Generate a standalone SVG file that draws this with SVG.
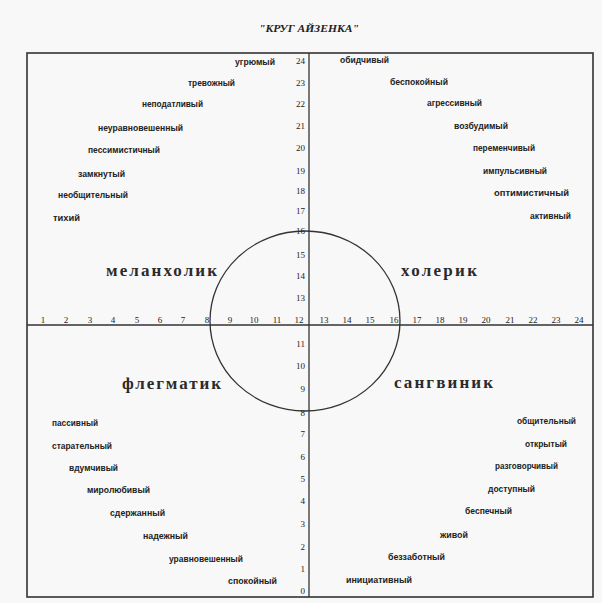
<svg xmlns="http://www.w3.org/2000/svg" width="602" height="603" viewBox="0 0 602 603">
<style>
.ln{stroke:#333;fill:none}
.num{font-family:"Liberation Serif",serif;font-size:9px;fill:#222}
.w{font-family:"Liberation Sans",sans-serif;font-size:8.5px;font-weight:bold;fill:#222}
.t{font-family:"Liberation Serif",serif;font-size:17px;font-weight:bold;fill:#2a2a2a}
</style>
<rect x="0" y="0" width="602" height="603" fill="#f8f8f8"/>
<text x="309" y="32" text-anchor="middle" font-family="Liberation Serif,serif" font-style="italic" font-weight="bold" font-size="11" fill="#222" textLength="100" lengthAdjust="spacingAndGlyphs">"КРУГ АЙЗЕНКА"</text>
<g id="frame"><rect class="ln" x="27" y="53" width="566" height="544" stroke-width="1.6"/></g>
<g id="connectors">
<line class="ln" x1="309" y1="53" x2="309" y2="597" stroke-width="1.3"/>
<line class="ln" x1="27" y1="325" x2="593" y2="325" stroke-width="1.3"/>
</g>
<g id="circle"><ellipse class="ln" cx="305" cy="321" rx="95" ry="90" stroke-width="1.3"/></g>
<g id="x-axis" class="num" text-anchor="middle">
<text x="43" y="323">1</text><text x="66" y="323">2</text><text x="90" y="323">3</text><text x="113" y="323">4</text><text x="137" y="323">5</text><text x="160" y="323">6</text><text x="183" y="323">7</text><text x="207" y="323">8</text><text x="230" y="323">9</text><text x="254" y="323">10</text><text x="277" y="323">11</text><text x="299" y="323">12</text>
<text x="324" y="323">13</text><text x="347" y="323">14</text><text x="370" y="323">15</text><text x="394" y="323">16</text><text x="417" y="323">17</text><text x="440" y="323">18</text><text x="463" y="323">19</text><text x="486" y="323">20</text><text x="510" y="323">21</text><text x="533" y="323">22</text><text x="556" y="323">23</text><text x="579" y="323">24</text>
</g>
<g id="y-axis" class="num" text-anchor="end">
<text x="305" y="64">24</text><text x="305" y="86">23</text><text x="305" y="107">22</text><text x="305" y="129">21</text><text x="305" y="151">20</text><text x="305" y="174">19</text><text x="305" y="194">18</text><text x="305" y="214">17</text><text x="305" y="234">16</text><text x="305" y="258">15</text><text x="305" y="279">14</text><text x="305" y="301">13</text>
<text x="305" y="347">11</text><text x="305" y="369">10</text><text x="305" y="392">9</text><text x="305" y="416">8</text><text x="305" y="437">7</text><text x="305" y="460">6</text><text x="305" y="482">5</text><text x="305" y="504">4</text><text x="305" y="527">3</text><text x="305" y="550">2</text><text x="305" y="572">1</text><text x="305" y="594">0</text>
</g>
<g id="melancholic">
<text class="t" x="106" y="276" textLength="111" lengthAdjust="spacing">меланхолик</text>
<text class="w" x="235" y="65" textLength="40" lengthAdjust="spacingAndGlyphs">угрюмый</text>
<text class="w" x="188" y="86" textLength="47" lengthAdjust="spacingAndGlyphs">тревожный</text>
<text class="w" x="142" y="107" textLength="61" lengthAdjust="spacingAndGlyphs">неподатливый</text>
<text class="w" x="98" y="131" textLength="85" lengthAdjust="spacingAndGlyphs">неуравновешенный</text>
<text class="w" x="88" y="153" textLength="72" lengthAdjust="spacingAndGlyphs">пессимистичный</text>
<text class="w" x="78" y="177" textLength="47" lengthAdjust="spacingAndGlyphs">замкнутый</text>
<text class="w" x="58" y="198" textLength="70" lengthAdjust="spacingAndGlyphs">необщительный</text>
<text class="w" x="53" y="221" textLength="27" lengthAdjust="spacingAndGlyphs">тихий</text>
</g>
<g id="choleric">
<text class="t" x="401" y="276" textLength="76" lengthAdjust="spacing">холерик</text>
<text class="w" x="340" y="63" textLength="49" lengthAdjust="spacingAndGlyphs">обидчивый</text>
<text class="w" x="390" y="85" textLength="58" lengthAdjust="spacingAndGlyphs">беспокойный</text>
<text class="w" x="427" y="106" textLength="55" lengthAdjust="spacingAndGlyphs">агрессивный</text>
<text class="w" x="454" y="129" textLength="54" lengthAdjust="spacingAndGlyphs">возбудимый</text>
<text class="w" x="473" y="151" textLength="62" lengthAdjust="spacingAndGlyphs">переменчивый</text>
<text class="w" x="483" y="174" textLength="64" lengthAdjust="spacingAndGlyphs">импульсивный</text>
<text class="w" x="494" y="196" textLength="75" lengthAdjust="spacingAndGlyphs">оптимистичный</text>
<text class="w" x="530" y="219" textLength="41" lengthAdjust="spacingAndGlyphs">активный</text>
</g>
<g id="phlegmatic">
<text class="t" x="122" y="389" textLength="99" lengthAdjust="spacing">флегматик</text>
<text class="w" x="52" y="426" textLength="46" lengthAdjust="spacingAndGlyphs">пассивный</text>
<text class="w" x="52" y="449" textLength="60" lengthAdjust="spacingAndGlyphs">старательный</text>
<text class="w" x="69" y="471" textLength="49" lengthAdjust="spacingAndGlyphs">вдумчивый</text>
<text class="w" x="87" y="493" textLength="63" lengthAdjust="spacingAndGlyphs">миролюбивый</text>
<text class="w" x="110" y="516" textLength="55" lengthAdjust="spacingAndGlyphs">сдержанный</text>
<text class="w" x="143" y="539" textLength="45" lengthAdjust="spacingAndGlyphs">надежный</text>
<text class="w" x="169" y="562" textLength="74" lengthAdjust="spacingAndGlyphs">уравновешенный</text>
<text class="w" x="228" y="584" textLength="49" lengthAdjust="spacingAndGlyphs">спокойный</text>
</g>
<g id="sanguine">
<text class="t" x="394" y="388" textLength="99" lengthAdjust="spacing">сангвиник</text>
<text class="w" x="517" y="424" textLength="59" lengthAdjust="spacingAndGlyphs">общительный</text>
<text class="w" x="525" y="447" textLength="42" lengthAdjust="spacingAndGlyphs">открытый</text>
<text class="w" x="495" y="469" textLength="63" lengthAdjust="spacingAndGlyphs">разговорчивый</text>
<text class="w" x="488" y="492" textLength="47" lengthAdjust="spacingAndGlyphs">доступный</text>
<text class="w" x="465" y="514" textLength="47" lengthAdjust="spacingAndGlyphs">беспечный</text>
<text class="w" x="440" y="538" textLength="28" lengthAdjust="spacingAndGlyphs">живой</text>
<text class="w" x="388" y="560" textLength="57" lengthAdjust="spacingAndGlyphs">беззаботный</text>
<text class="w" x="346" y="583" textLength="66" lengthAdjust="spacingAndGlyphs">инициативный</text>
</g>
</svg>
